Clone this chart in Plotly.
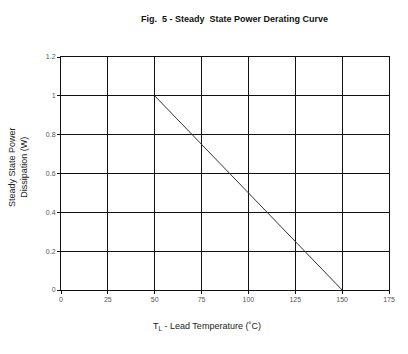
import plotly.graph_objects as go

temp_c = [50, 150]
power_w = [1.0, 0.0]
x_ticks = [0, 25, 50, 75, 100, 125, 150, 175]
y_ticks = [0, 0.2, 0.4, 0.6, 0.8, 1.0, 1.2]
y_tick_text = ["0", "0.2", "0.4", "0.6", "0.8", "1", "1.2"]

fig = go.Figure()
fig.add_trace(go.Scatter(x=temp_c, y=power_w, mode="lines",
                         line=dict(color="#333333", width=1), showlegend=False))

axis_common = dict(showgrid=True, gridcolor="#111111", gridwidth=1,
                   showline=True, linecolor="#111111", linewidth=1, mirror=True,
                   zeroline=False, ticks="outside", ticklen=3, tickcolor="#111111",
                   tickfont=dict(family="Arial, Liberation Sans", size=7, color="#555555"))

fig.update_xaxes(range=[0, 175], tickvals=x_ticks, ticktext=[str(v) for v in x_ticks], **axis_common)
fig.update_yaxes(range=[0, 1.2], tickvals=y_ticks, ticktext=y_tick_text, **axis_common)

fig.update_layout(
    width=408, height=354,
    margin=dict(l=61, r=19, t=57, b=64),
    paper_bgcolor="white", plot_bgcolor="white",
    annotations=[
        dict(text="<b>Fig.  5 - Steady  State Power Derating Curve</b>",
             xref="paper", yref="paper", x=0.53, y=1.163, showarrow=False,
             xanchor="center", yanchor="middle",
             font=dict(family="Arial, Liberation Sans", size=9, color="#111111")),
        dict(text="T<sub>L</sub> - Lead Temperature (˚C)",
             xref="paper", yref="paper", x=0.445, y=-0.155, showarrow=False,
             xanchor="center", yanchor="middle",
             font=dict(family="Arial, Liberation Sans", size=9, color="#222222")),
        dict(text="Steady State Power<br>Dissipation (W)",
             xref="paper", yref="paper", x=-0.131, y=0.528, showarrow=False,
             xanchor="center", yanchor="middle", textangle=-90,
             font=dict(family="Arial, Liberation Sans", size=9, color="#222222")),
    ],
)

fig.write_html("out.html")
